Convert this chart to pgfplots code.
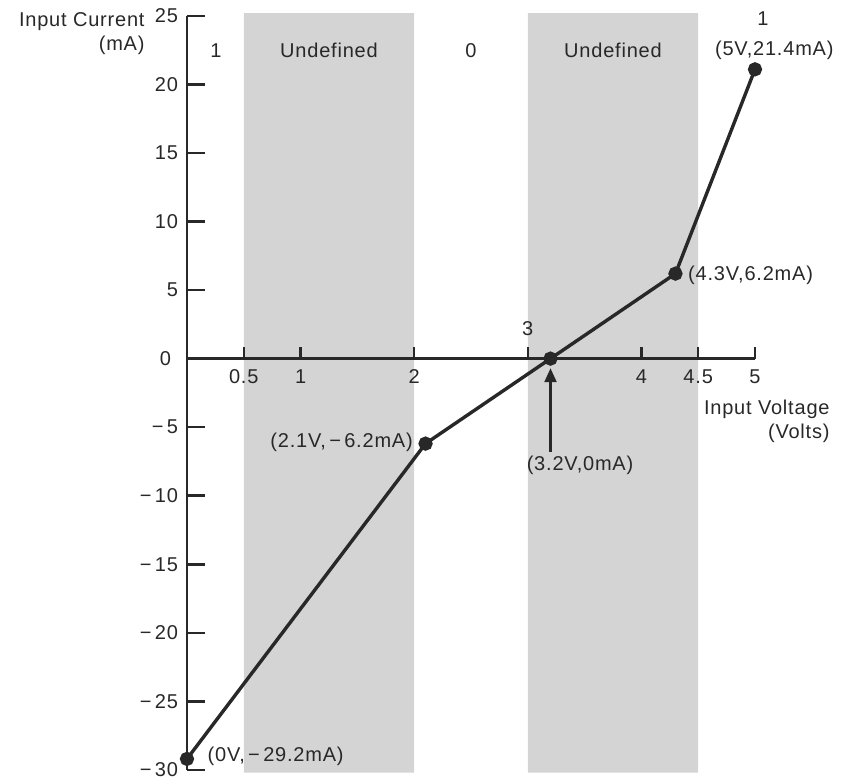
\documentclass[border=0pt]{standalone}
\usepackage{fontspec}
\setmainfont{Liberation Sans}[LetterSpace=4]
\usepackage{pgfplots}
\pgfplotsset{compat=1.18}
\usetikzlibrary{arrows.meta}
\definecolor{ink}{RGB}{40,40,40}
\definecolor{shade}{RGB}{212,212,212}
\begin{document}
\fontsize{10}{12}\selectfont
\begin{tikzpicture}
\begin{axis}[
  scale only axis, width=284pt, height=377pt,
  xmin=0, xmax=5, ymin=-30, ymax=25,
  axis lines=middle,
  axis line style={-, line width=1.25pt, ink},
  axis on top,
  clip=false,
  tick align=inside,
  xtick={0.5,1,2,3,4,4.5,5},
  xticklabels={0.5,1,2,,4,4.5,5},
  ytick={-30,-25,-20,-15,-10,-5,0,5,10,15,20,25},
  yticklabels={{−\,30},{−\,25},{−\,20},{−\,15},{−\,10},{−\,5},0,5,10,15,20,25},
  xtick style={line width=1.25pt, ink, /pgfplots/major tick length=6pt},
  ytick style={line width=1.25pt, ink, /pgfplots/major tick length=9pt},
  xticklabel style={ink, yshift=-2pt},
  yticklabel style={ink, xshift=-1pt},
  tick label style={font=\fontsize{10}{12}\selectfont},
]
\addplot[fill=shade, draw=none] coordinates {(0.5,-30.2) (2,-30.2) (2,25.2) (0.5,25.2) (0.5,-30.2)};
\addplot[fill=shade, draw=none] coordinates {(3,-30.2) (4.5,-30.2) (4.5,25.2) (3,25.2) (3,-30.2)};
\addplot[line width=1.7pt, color=ink, mark=*, mark size=2.7pt, mark options={fill=ink}]
  coordinates {(0,-29.2) (2.1,-6.2) (3.2,0) (4.3,6.2) (5,21.1)};
\draw[-{Triangle[length=7pt,width=6pt]}, line width=1.2pt, ink] (axis cs:3.2,-6.8) -- (axis cs:3.2,-0.7);
\node[ink, anchor=south] at (axis cs:3,0) [yshift=8pt] {3};
\node[ink, anchor=east] at (axis cs:0,0) [xshift=-4.5pt] {0};
\node[ink] at (axis cs:0.255,22.5) {1};
\node[ink] at (axis cs:1.25,22.5) {Undefined};
\node[ink] at (axis cs:2.5,22.5) {0};
\node[ink] at (axis cs:3.75,22.5) {Undefined};
\node[ink] at (axis cs:5.07,24.8) {1};
\node[ink] at (axis cs:5.17,22.5) {(5V,21.4mA)};
\node[ink, anchor=west] at (axis cs:4.35,6.1) {(4.3V,6.2mA)};
\node[ink, anchor=east] at (axis cs:2.05,-6.1) {(2.1V,\,−\,6.2mA)};
\node[ink] at (axis cs:3.46,-7.8) {(3.2V,0mA)};
\node[ink, anchor=west] at (axis cs:0.12,-29.0) {(0V,\,−\,29.2mA)};
\node[ink, anchor=north east, align=right, inner sep=0pt] at (axis cs:5.66,-3.0) {Input Voltage\\(Volts)};
\node[ink, anchor=north east, align=right, inner sep=0pt] at (axis cs:-0.37,25.3) {Input Current\\(mA)};
\coordinate (bl) at (axis cs:-1.646,-30.88);
\coordinate (tr) at (axis cs:5.81,26.16);
\end{axis}
\pgfresetboundingbox
\path (bl) rectangle (tr);
\end{tikzpicture}
\end{document}
